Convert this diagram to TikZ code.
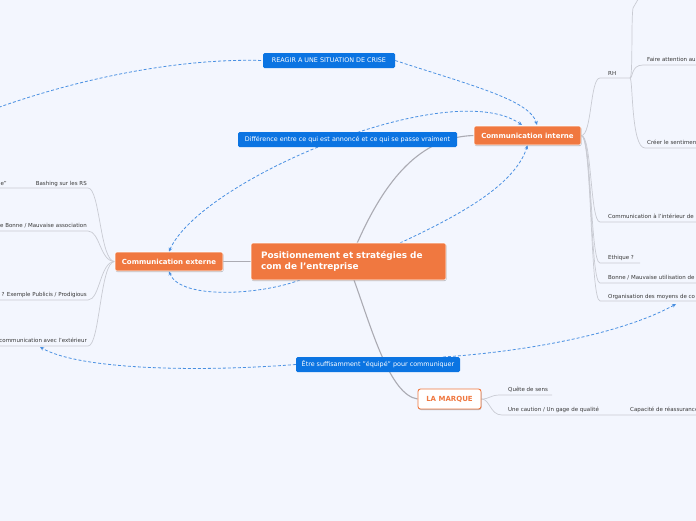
\documentclass[tikz,border=0pt]{standalone}
\usepackage{fontspec}
\setmainfont{DejaVu Sans}
\usetikzlibrary{arrows.meta,shadows}
\definecolor{bgc}{HTML}{F3F6FE}
\definecolor{orng}{HTML}{F07840}
\definecolor{blu}{HTML}{0B74E2}
\definecolor{dashc}{HTML}{4A90E2}
\definecolor{trunkc}{HTML}{ABABB3}
\definecolor{twigc}{HTML}{C9CBD3}
\definecolor{leaftxt}{HTML}{383838}
\pgfdeclarelayer{back}
\pgfsetlayers{back,main}
\begin{document}
\begin{tikzpicture}[x=1pt,y=-1pt,
  orangebox/.style={fill=orng, draw=white, line width=0.6pt, rounded corners=2pt, text=white,
    inner sep=0pt, drop shadow={shadow xshift=0.5pt,shadow yshift=-1pt,opacity=0.25,fill=black}},
  mainbox/.style={orangebox, font=\fontsize{7}{8}\selectfont\bfseries},
  markbox/.style={fill=white, draw=orng, line width=0.9pt, rounded corners=2.5pt, text=orng,
    inner sep=0pt, font=\fontsize{7}{8}\selectfont\bfseries,
    drop shadow={shadow xshift=0.5pt,shadow yshift=-1pt,opacity=0.25,fill=black}},
  bluebox/.style={fill=blu, rounded corners=1.5pt, text=white, inner sep=0pt,
    font=\fontsize{6.4}{7}\selectfont},
  leaf/.style={font=\fontsize{5.5}{6}\selectfont, text=leaftxt, inner sep=0pt},
  trunk/.style={draw=trunkc, line width=1.1pt},
  twig/.style={draw=twigc, line width=0.7pt},
  rel/.style={draw=dashc, line width=0.8pt, dash pattern=on 3pt off 2pt},
  tip/.style={-{Stealth[length=4pt,width=3.6pt]}},
  tips/.style={{Stealth[length=4pt,width=3.6pt]}-{Stealth[length=4pt,width=3.6pt]}}
]
\useasboundingbox (0,0) rectangle (696,520);
\clip (0,0) rectangle (696,520);

% ---------- main nodes ----------
\node[orangebox, minimum width=195pt, minimum height=37pt, text width=175pt, align=left,
  font=\fontsize{8.9}{11}\selectfont\bfseries] (central) at (348.5,261.5)
  {Positionnement et stratégies de\\com de l'entreprise};
\node[mainbox, minimum width=107pt, minimum height=19pt] (cint) at (527.5,135.5) {Communication interne};
\node[mainbox, minimum width=108pt, minimum height=19pt] (cext) at (169,261.5) {Communication externe};
\node[markbox, minimum width=63pt, minimum height=20pt] (lam) at (449.5,399) {LA MARQUE};

\node[bluebox, minimum width=132pt, minimum height=15pt] (reagir) at (329,60.5) {REAGIR A UNE SITUATION DE CRISE};
\node[bluebox, minimum width=219pt, minimum height=15pt] (diff) at (347.5,139.5) {Différence entre ce qui est annoncé et ce qui se passe vraiment};
\node[bluebox, minimum width=164pt, minimum height=15pt] (etre) at (378,364.5) {Être suffisamment "équipé" pour communiquer};

% ---------- leaves ----------
\node[leaf, anchor=base west] (rh) at (608,75) {RH};
\node[leaf, anchor=base west] (faire) at (647,61.5) {Faire attention au};
\node[leaf, anchor=base west] (creer) at (647,144.5) {Créer le sentiment};
\node[leaf, anchor=base west] (comint) at (608,218.5) {Communication à l'intérieur de l};
\node[leaf, anchor=base west] (ethique) at (608,259.5) {Ethique ?};
\node[leaf, anchor=base west] (bonne) at (608,279.5) {Bonne / Mauvaise utilisation de};
\node[leaf, anchor=base west] (orga) at (608,298) {Organisation des moyens de co};

\node[leaf, anchor=base west] (quete) at (508,391.5) {Quête de sens};
\node[leaf, anchor=base west] (caution) at (508,411.5) {Une caution / Un gage de qualité};
\node[leaf, anchor=base west] (capa) at (630,411.5) {Capacité de réassurance};

\node[leaf, anchor=base east] (bash) at (87,185) {Bashing sur les RS};
\node[leaf, anchor=base east] (edq) at (7,185) {e"};
\node[leaf, anchor=base east] (assoc) at (87,227.5) {e Bonne / Mauvaise association};
\node[leaf, anchor=base east] (publi) at (87,296.5) {? Exemple Publicis / Prodigious};
\node[leaf, anchor=base east] (comext) at (87,342.5) {communication avec l'extérieur};

% ---------- connector end points ----------
\coordinate (ctop) at (357,243.5);
\coordinate (cbot) at (354,280);
\coordinate (cbl) at (300,280);
\coordinate (ctr) at (400,243);
\coordinate (cinttopA) at (522,125);
\coordinate (cinttopB) at (537,125);
\coordinate (offleft) at (-6,109);
\coordinate (etretr) at (443,357);
\coordinate (orgaend) at (676,304);
\coordinate (comextend) at (40,347);
\coordinate (rhend) at (630,78);

\begin{pgfonlayer}{back}
\fill[bgc] (-10,-10) rectangle (710,530);

% trunk connectors
\draw[trunk] (central.west) -- (cext.east);
\draw[trunk] (ctop) .. controls (385,180) and (420,137) .. (cint.west);
\draw[trunk] (cbot) .. controls (372,330) and (390,395) .. (lam.west);

% communication interne branches
\draw[twig] (cint.east) .. controls (592,135.5) and (590,78) .. (600,78) -- (rhend);
\draw[twig] (cint.east) .. controls (592,135.5) and (590,222) .. (600,222) -- (700,222);
\draw[twig] (cint.east) .. controls (592,135.5) and (590,263) .. (600,263) -- (640,263);
\draw[twig] (cint.east) .. controls (592,135.5) and (590,283) .. (600,283) -- (700,283);
\draw[twig] (cint.east) .. controls (592,135.5) and (590,301) .. (600,301) -- (700,301);
% RH sub-branches
\draw[twig] (rhend) .. controls (633,78) and (631,20) .. (633,8) -- (640,-4);
\draw[twig] (rhend) .. controls (633,78) and (631,65) .. (643,65) -- (700,65);
\draw[twig] (rhend) .. controls (633,78) and (631,148) .. (645,148) -- (700,148);

% communication externe branches
\draw[twig] (cext.west) .. controls (100,261.5) and (100,188) .. (88,188) -- (-4,188);
\draw[twig] (cext.west) .. controls (100,261.5) and (100,231) .. (88,231) -- (-4,231);
\draw[twig] (cext.west) .. controls (100,261.5) and (100,300) .. (88,300) -- (-4,300);
\draw[twig] (cext.west) .. controls (100,261.5) and (100,346) .. (88,346) -- (-4,346);

% la marque branches
\draw[twig] (lam.east) .. controls (490,399) and (490,395) .. (500,395) -- (552,395);
\draw[twig] (lam.east) .. controls (490,399) and (490,415) .. (502,415) -- (625,415) -- (700,415);

% relations (dashed)
\draw[rel] (offleft) .. controls (80,78) and (180,58) .. (reagir.west);
\draw[rel, tip] (reagir.east) .. controls (470,85) and (530,100) .. (cinttopB);
\draw[rel, tips] (cext.north) .. controls (200,180) and (450,75) .. (cinttopA);
\draw[rel, tip] (cbl) .. controls (260,295) and (180,300) .. (cext.south);
\draw[rel, tip] (ctr) .. controls (460,215) and (515,185) .. (cint.south);
\draw[rel, tip] (etre.west) .. controls (200,372) and (80,370) .. (comextend);
\draw[rel, tip] (etretr) .. controls (520,352) and (620,335) .. (orgaend);
\end{pgfonlayer}
\end{tikzpicture}
\end{document}
